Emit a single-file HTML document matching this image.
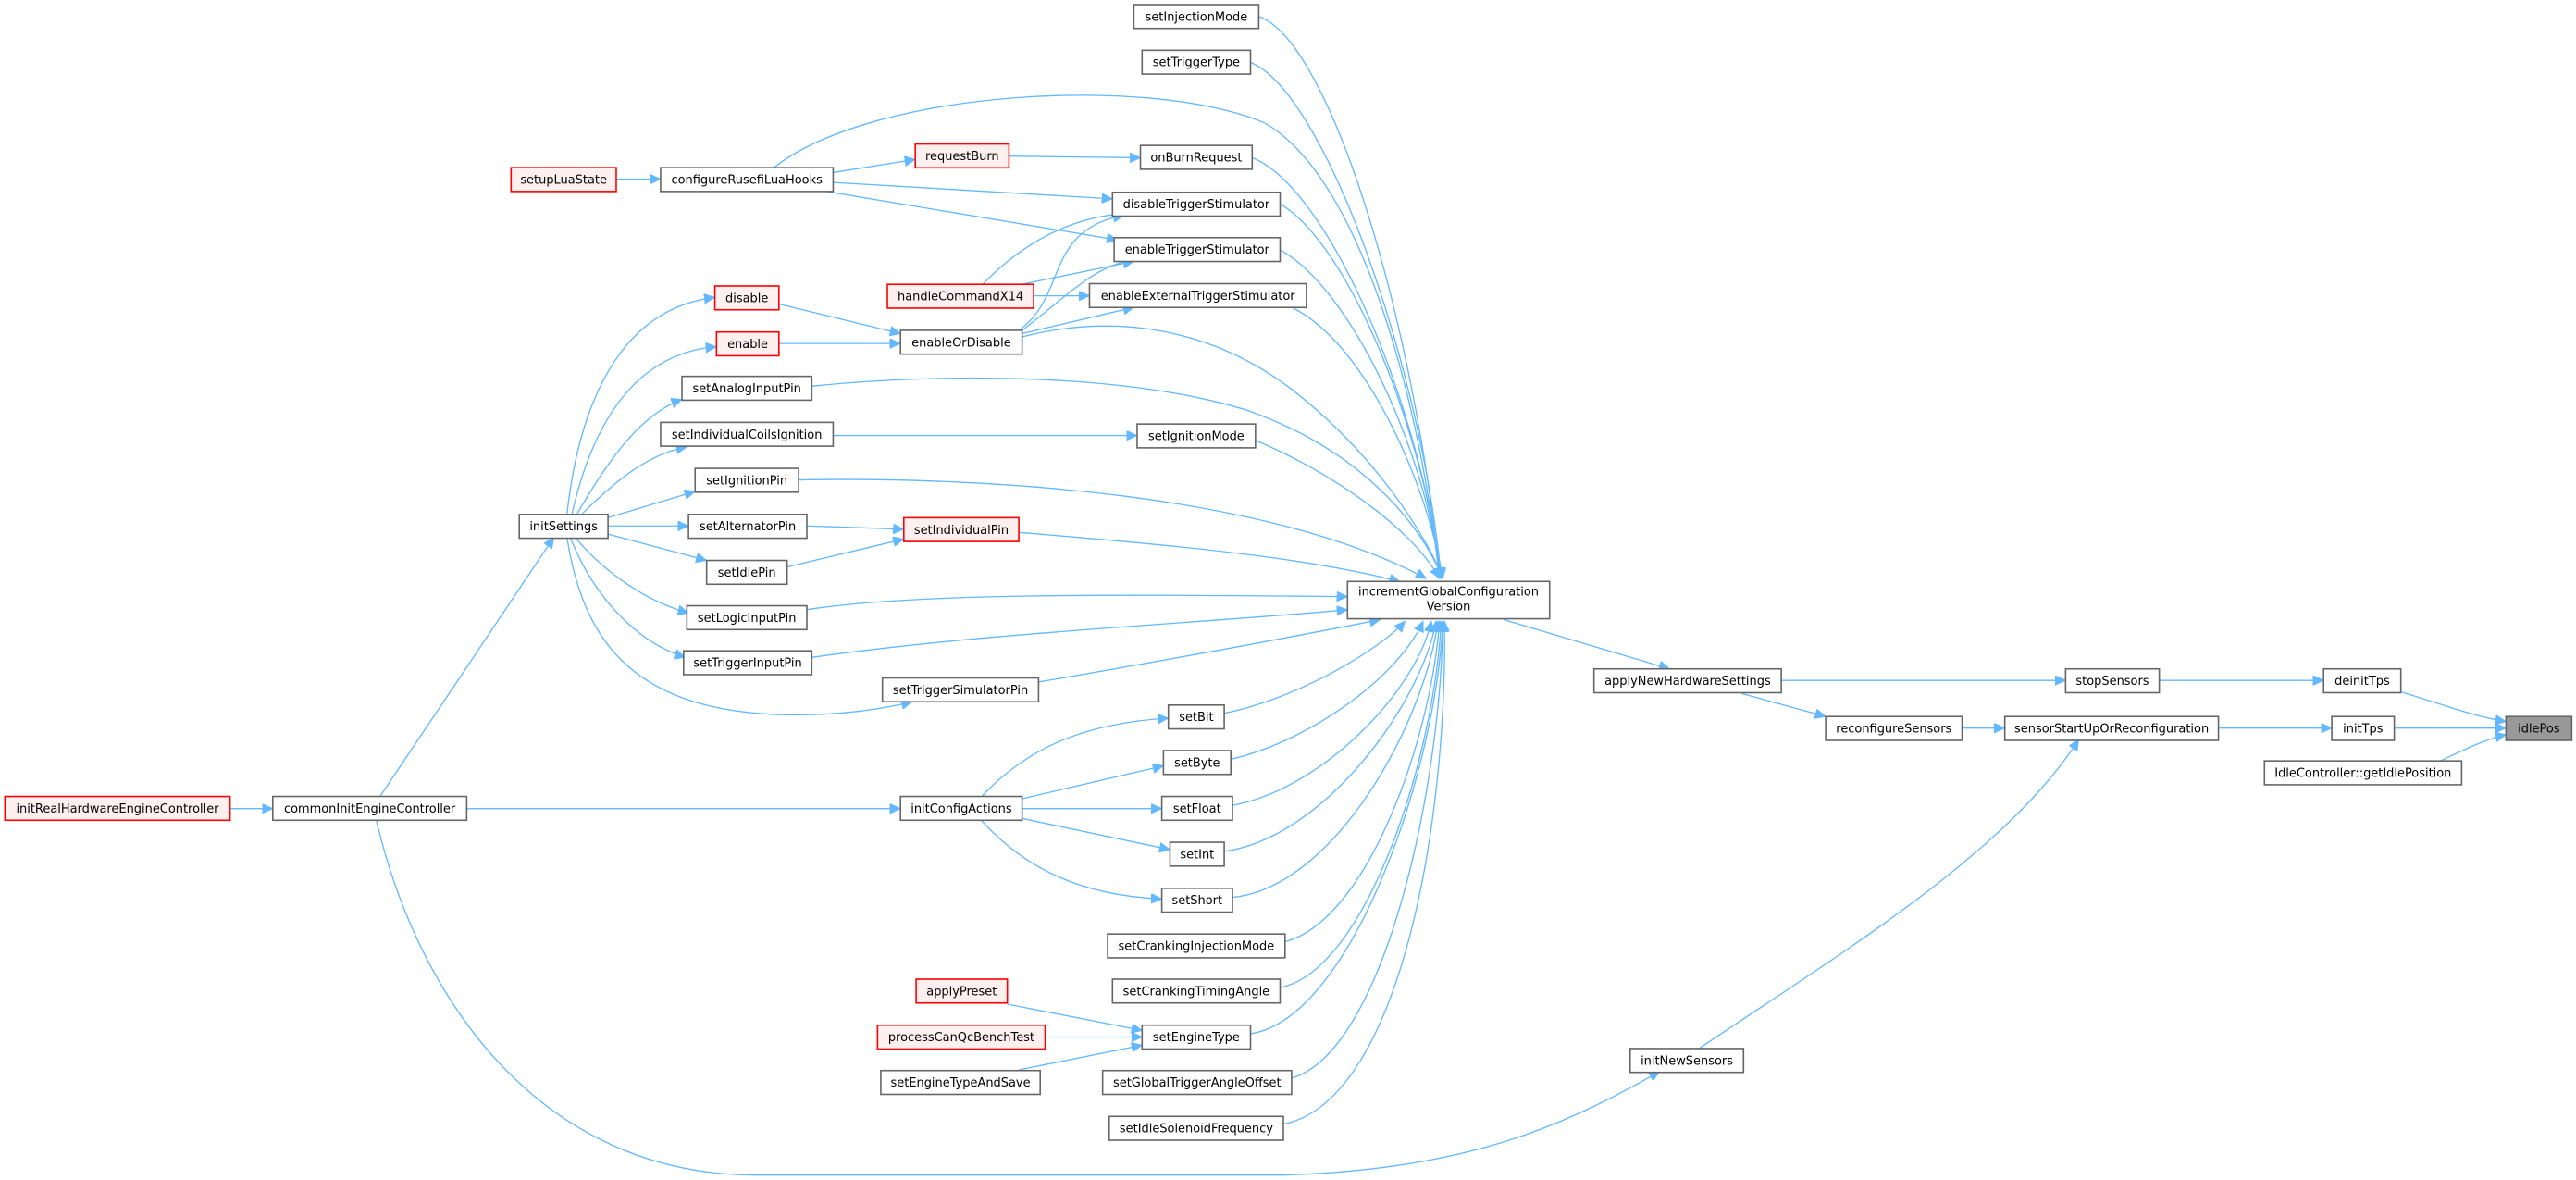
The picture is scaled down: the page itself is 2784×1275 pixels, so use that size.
<!DOCTYPE html>
<html><head><meta charset="utf-8"><style>
html,body{margin:0;padding:0;background:#fff;}
svg{display:block;}
text{font-family:"DejaVu Sans","Liberation Sans",sans-serif;font-size:7.3px;fill:#000;text-anchor:middle;}
.n{fill:#fff;stroke:#666;stroke-width:0.9;}
.r{fill:#fff0f0;stroke:#f00;stroke-width:0.9;}
.g{fill:#999;stroke:#666;stroke-width:0.9;}
path{fill:none;stroke:#63b8ff;stroke-width:0.75;marker-end:url(#a);}
</style></head><body>
<svg width="2784" height="1275" viewBox="0 0 1567.6 718" preserveAspectRatio="none">
<defs><marker id="a" markerUnits="userSpaceOnUse" markerWidth="8" markerHeight="7" refX="6.5" refY="3" orient="auto"><polygon points="0,0 6.5,3 0,6" fill="#63b8ff" stroke="#63b8ff" stroke-width="0.5"/></marker></defs>

<!-- edges into increment (top) -->
<path d="M766,10 C810,25 862,200 876,352"/>
<path d="M761,38 C805,55 865,220 877,352"/>
<path d="M471,102 C530,55 700,45 770,75 C830,110 865,250 876,352"/>
<path d="M762,96 C805,112 862,235 877,352"/>
<path d="M779,124 C822,150 866,262 877,352"/>
<path d="M779,152 C822,176 867,272 877,352"/>
<path d="M786,187 C830,208 868,292 878,352"/>
<path d="M622,205 C680,190 740,200 790,240 C840,280 870,330 878,352"/>
<path d="M494,235 C560,228 680,225 760,250 C830,275 865,320 878,352"/>
<path d="M764,268 C810,287 860,322 876,352"/>
<path d="M486,292 C600,290 770,300 868,352"/>
<path d="M620,324 C720,332 800,340 852,354"/>
<path d="M491,371 C560,360 700,362 820,363"/>
<path d="M494,400 C600,385 720,380 820,371"/>
<!-- into increment (bottom) -->
<path d="M632,415 C720,400 800,385 840,377"/>
<path d="M745,434 C790,425 840,395 855,378"/>
<path d="M749,462 C800,450 852,410 866,378"/>
<path d="M750,490 C805,480 862,420 871,378"/>
<path d="M745,518 C805,510 864,430 874,378"/>
<path d="M750,546 C812,540 867,440 875,378"/>
<path d="M782,573 C832,560 871,450 876,378"/>
<path d="M779,601 C832,590 873,460 877,378"/>
<path d="M761,629 C822,620 874,470 878,378"/>
<path d="M786,656 C842,640 877,480 878,378"/>
<path d="M781,684 C852,670 881,500 879,378"/>
<!-- right side -->
<path d="M915,377 L1016,407"/>
<path d="M1084,414 L1257,414"/>
<path d="M1314,414 L1414,414"/>
<path d="M1461,421 C1485,428 1505,436 1525,439"/>
<path d="M1060,422 L1111,436"/>
<path d="M1194,443 L1220,443"/>
<path d="M1350,443 L1419,443"/>
<path d="M1457,443 L1525,443"/>
<path d="M1485,463 C1500,456 1512,450 1525,447"/>
<path d="M1034,638 C1120,580 1220,520 1265,450"/>
<!-- left upper -->
<path d="M375,109 L402,109"/>
<path d="M507,105 L557,97"/>
<path d="M614,95 L694,96"/>
<path d="M507,111 L677,121"/>
<path d="M500,116 L680,146"/>
<path d="M598,173 C625,145 655,132 684,130"/>
<path d="M622,173 L690,159"/>
<path d="M629,180 L663,180"/>
<path d="M474,185 L548,203"/>
<path d="M474,209 L548,209"/>
<path d="M620,201 C650,180 635,140 684,131"/>
<path d="M622,201 C650,180 665,162 690,158"/>
<path d="M622,203 L690,187"/>
<path d="M507,265 L692,265"/>
<path d="M491,320 L550,322"/>
<path d="M479,345 L550,328"/>
<!-- initSettings fan -->
<path d="M345,313 C352,250 375,188 435,181"/>
<path d="M348,313 C360,260 385,215 436,211"/>
<path d="M351,313 C370,280 390,252 415,243"/>
<path d="M354,313 C375,292 395,276 418,272"/>
<path d="M370,315 L423,299"/>
<path d="M370,320 L419,320"/>
<path d="M370,325 L430,341"/>
<path d="M350,327 C365,345 390,365 419,373"/>
<path d="M347,327 C360,360 385,390 417,400"/>
<path d="M345,327 C355,390 385,435 485,435 C510,435 535,432 555,427"/>
<!-- lower left -->
<path d="M231,485 L337,327"/>
<path d="M140,492 L166,492"/>
<path d="M284,492 L548,492"/>
<path d="M229,499 C255,610 330,715 460,715 L780,715 C900,712 960,680 1010,652"/>
<path d="M597,485 C625,455 660,440 711,437"/>
<path d="M622,486 L708,466"/>
<path d="M622,492 L707,492"/>
<path d="M622,498 L712,517"/>
<path d="M597,499 C625,530 660,545 707,547"/>
<path d="M613,611 L695,627"/>
<path d="M636,631 L695,631"/>
<path d="M620,651 L695,636"/>

<!-- nodes -->
<rect class="n" x="690" y="2.8" width="76" height="14.5"/><text x="728" y="12.6">setInjectionMode</text>
<rect class="n" x="695" y="30.6" width="66" height="14.5"/><text x="728" y="40.4">setTriggerType</text>
<rect class="r" x="557" y="87.6" width="57" height="14.5"/><text x="585.5" y="97.4">requestBurn</text>
<rect class="n" x="694" y="88.5" width="68" height="14.5"/><text x="728" y="98.3">onBurnRequest</text>
<rect class="r" x="311" y="102" width="64" height="14.5"/><text x="343" y="111.8">setupLuaState</text>
<rect class="n" x="402" y="102" width="105" height="14.5"/><text x="454.5" y="111.8">configureRusefiLuaHooks</text>
<rect class="n" x="677" y="117" width="102" height="14.5"/><text x="728" y="126.8">disableTriggerStimulator</text>
<rect class="n" x="678" y="144.6" width="101" height="14.5"/><text x="728.5" y="154.4">enableTriggerStimulator</text>
<rect class="r" x="540" y="173" width="89" height="14.5"/><text x="584.5" y="182.8">handleCommandX14</text>
<rect class="n" x="663" y="172.6" width="132" height="14.5"/><text x="729" y="182.4">enableExternalTriggerStimulator</text>
<rect class="r" x="435" y="174" width="39" height="14.5"/><text x="454.5" y="183.8">disable</text>
<rect class="r" x="436" y="202" width="38" height="14.5"/><text x="455" y="211.8">enable</text>
<rect class="n" x="548" y="201" width="74" height="14.5"/><text x="585" y="210.8">enableOrDisable</text>
<rect class="n" x="415" y="229" width="79" height="14.5"/><text x="454.5" y="238.8">setAnalogInputPin</text>
<rect class="n" x="402" y="257" width="105" height="14.5"/><text x="454.5" y="266.8">setIndividualCoilsIgnition</text>
<rect class="n" x="692" y="258" width="72" height="14.5"/><text x="728" y="267.8">setIgnitionMode</text>
<rect class="n" x="423" y="285" width="63" height="14.5"/><text x="454.5" y="294.8">setIgnitionPin</text>
<rect class="n" x="316" y="313" width="54" height="14.5"/><text x="343" y="322.8">initSettings</text>
<rect class="n" x="419" y="313" width="72" height="14.5"/><text x="455" y="322.8">setAlternatorPin</text>
<rect class="r" x="550" y="315" width="70" height="14.5"/><text x="585" y="324.8">setIndividualPin</text>
<rect class="n" x="430" y="341" width="49" height="14.5"/><text x="454.5" y="350.8">setIdlePin</text>
<rect class="n" x="820" y="353.8" width="123" height="22.7"/><text x="881.5" y="362.5">incrementGlobalConfiguration</text><text x="881.5" y="371.5">Version</text>
<rect class="n" x="418" y="368.6" width="73" height="14.5"/><text x="454.5" y="378.4">setLogicInputPin</text>
<rect class="n" x="416" y="396" width="78" height="14.5"/><text x="455" y="405.8">setTriggerInputPin</text>
<rect class="n" x="970" y="407" width="114" height="14.5"/><text x="1027" y="416.8">applyNewHardwareSettings</text>
<rect class="n" x="1257" y="407" width="57" height="14.5"/><text x="1285.5" y="416.8">stopSensors</text>
<rect class="n" x="1414" y="407" width="47" height="14.5"/><text x="1437.5" y="416.8">deinitTps</text>
<rect class="n" x="537" y="412.5" width="95" height="14.5"/><text x="584.5" y="422.3">setTriggerSimulatorPin</text>
<rect class="n" x="711" y="429" width="34" height="14.5"/><text x="728" y="438.8">setBit</text>
<rect class="n" x="1111" y="436" width="83" height="14.5"/><text x="1152.5" y="445.8">reconfigureSensors</text>
<rect class="n" x="1220" y="436" width="130" height="14.5"/><text x="1285" y="445.8">sensorStartUpOrReconfiguration</text>
<rect class="n" x="1419" y="436" width="38" height="14.5"/><text x="1438" y="445.8">initTps</text>
<rect class="g" x="1525" y="436" width="40" height="14.5"/><text x="1545" y="445.8">idlePos</text>
<rect class="n" x="708" y="456.7" width="41" height="14.5"/><text x="728.5" y="466.5">setByte</text>
<rect class="n" x="1378" y="463" width="120" height="14.5"/><text x="1438" y="472.8">IdleController::getIdlePosition</text>
<rect class="r" x="3" y="484.6" width="137" height="14.5"/><text x="71.5" y="494.4">initRealHardwareEngineController</text>
<rect class="n" x="166" y="484.6" width="118" height="14.5"/><text x="225" y="494.4">commonInitEngineController</text>
<rect class="n" x="548" y="484.6" width="74" height="14.5"/><text x="585" y="494.4">initConfigActions</text>
<rect class="n" x="707" y="484.6" width="43" height="14.5"/><text x="728.5" y="494.4">setFloat</text>
<rect class="n" x="712" y="512.5" width="33" height="14.5"/><text x="728.5" y="522.3">setInt</text>
<rect class="n" x="707" y="540.5" width="43" height="14.5"/><text x="728.5" y="550.3">setShort</text>
<rect class="n" x="674" y="568.3" width="108" height="14.5"/><text x="728" y="578.1">setCrankingInjectionMode</text>
<rect class="r" x="557.5" y="595.8" width="55.5" height="14.5"/><text x="585.2" y="605.6">applyPreset</text>
<rect class="n" x="677" y="595.8" width="102" height="14.5"/><text x="728" y="605.6">setCrankingTimingAngle</text>
<rect class="r" x="534" y="623.8" width="102" height="14.5"/><text x="585" y="633.6">processCanQcBenchTest</text>
<rect class="n" x="695" y="623.8" width="66" height="14.5"/><text x="728" y="633.6">setEngineType</text>
<rect class="n" x="992" y="638" width="69" height="14.5"/><text x="1026.5" y="647.8">initNewSensors</text>
<rect class="n" x="536" y="651.4" width="97" height="14.5"/><text x="584.5" y="661.2">setEngineTypeAndSave</text>
<rect class="n" x="671" y="651.4" width="115" height="14.5"/><text x="728.5" y="661.2">setGlobalTriggerAngleOffset</text>
<rect class="n" x="675" y="679.3" width="106" height="14.5"/><text x="728" y="689.1">setIdleSolenoidFrequency</text>
</svg>
</body></html>
